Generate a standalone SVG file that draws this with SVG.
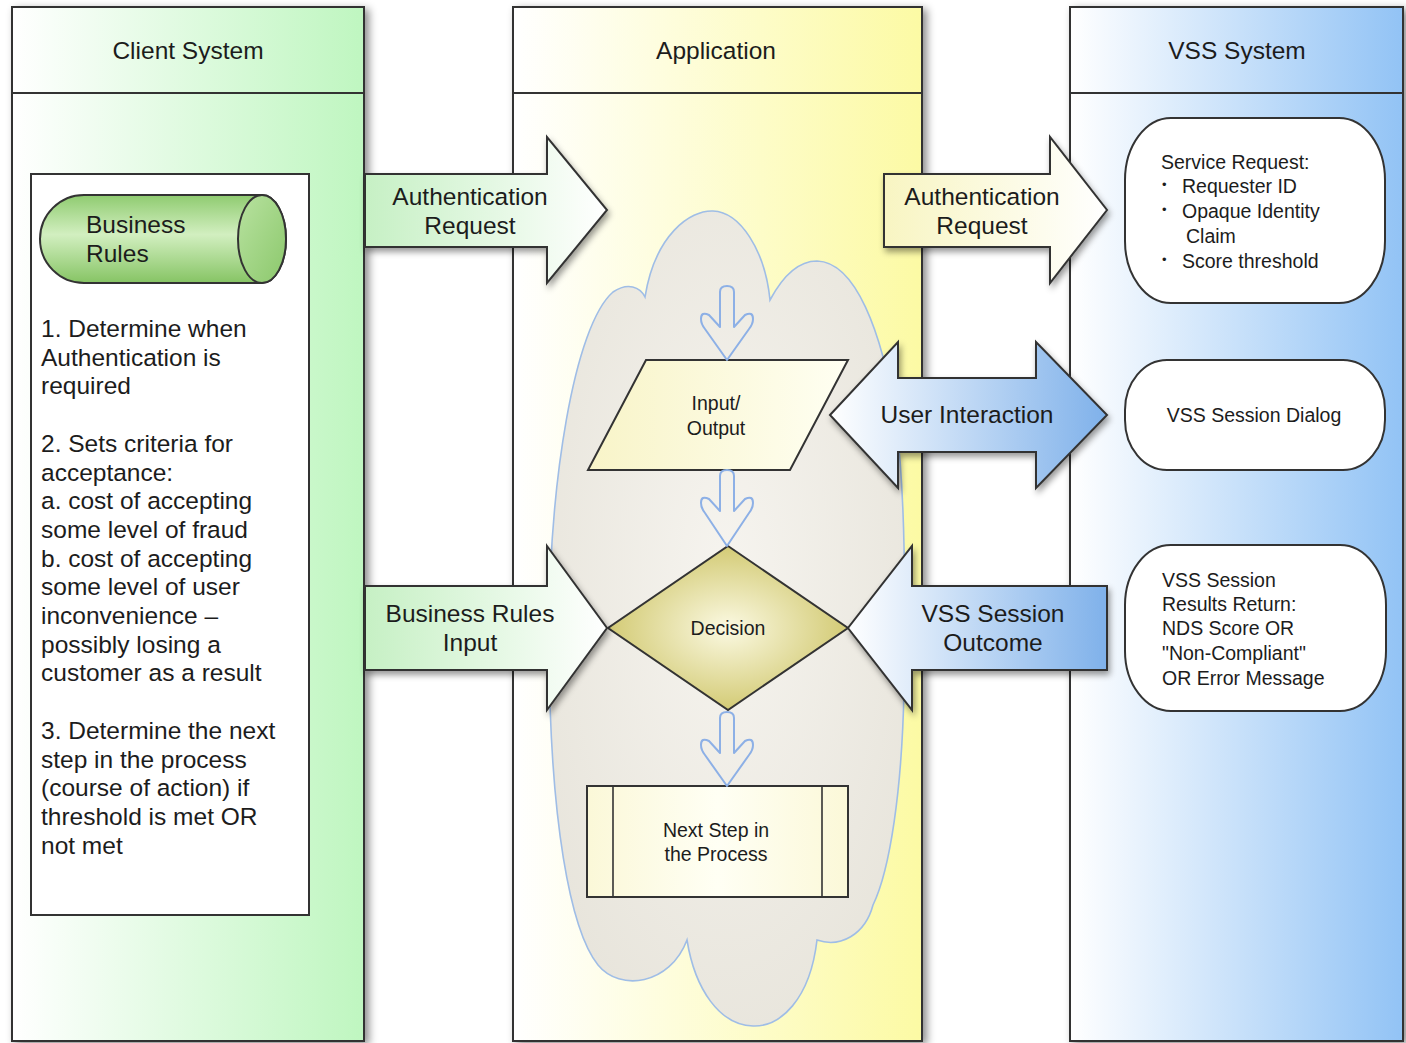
<svg xmlns="http://www.w3.org/2000/svg" width="1406" height="1043" viewBox="0 0 1406 1043">
<defs>
  <linearGradient id="gClient" x1="0" y1="0" x2="1" y2="0">
    <stop offset="0" stop-color="#ffffff"/>
    <stop offset="1" stop-color="#bff6c0"/>
  </linearGradient>
  <linearGradient id="gApp" x1="0" y1="0" x2="1" y2="0">
    <stop offset="0" stop-color="#ffffff"/>
    <stop offset="1" stop-color="#fcfaa4"/>
  </linearGradient>
  <linearGradient id="gVss" x1="0" y1="0" x2="1" y2="0">
    <stop offset="0" stop-color="#ffffff"/>
    <stop offset="1" stop-color="#92c3f5"/>
  </linearGradient>
  <linearGradient id="gArrowGreen" x1="0" y1="0" x2="1" y2="0">
    <stop offset="0" stop-color="#c6f0c4"/>
    <stop offset="1" stop-color="#ffffff"/>
  </linearGradient>
  <linearGradient id="gArrowYellow" x1="0" y1="0" x2="1" y2="0">
    <stop offset="0" stop-color="#f8f5c2"/>
    <stop offset="1" stop-color="#ffffff"/>
  </linearGradient>
  <linearGradient id="gArrowBlue" x1="0" y1="0" x2="1" y2="0">
    <stop offset="0" stop-color="#ffffff"/>
    <stop offset="1" stop-color="#7fb1ea"/>
  </linearGradient>
  <linearGradient id="gCyl" x1="0" y1="0" x2="0" y2="1">
    <stop offset="0" stop-color="#8fcb70"/>
    <stop offset="0.45" stop-color="#d2efc0"/>
    <stop offset="1" stop-color="#86c464"/>
  </linearGradient>
  <linearGradient id="gCap" x1="0" y1="0" x2="1" y2="1">
    <stop offset="0" stop-color="#b8e2a0"/>
    <stop offset="1" stop-color="#8cc86c"/>
  </linearGradient>
  <radialGradient id="gCloud" cx="0.5" cy="0.45" r="0.6">
    <stop offset="0" stop-color="#f6f4ef"/>
    <stop offset="1" stop-color="#e8e5dc"/>
  </radialGradient>
  <radialGradient id="gDiamond" cx="0.5" cy="0.5" r="0.55">
    <stop offset="0" stop-color="#fbf9e2"/>
    <stop offset="1" stop-color="#cfc66a"/>
  </radialGradient>
  <linearGradient id="gIO" x1="0" y1="0" x2="1" y2="0">
    <stop offset="0" stop-color="#f8f4c8"/>
    <stop offset="1" stop-color="#fffff2"/>
  </linearGradient>
  <linearGradient id="gNext" x1="0" y1="0" x2="1" y2="0">
    <stop offset="0" stop-color="#fbf8d8"/>
    <stop offset="0.5" stop-color="#fffff4"/>
    <stop offset="1" stop-color="#fbf8d8"/>
  </linearGradient>
  <filter id="shadow" x="-10%" y="-5%" width="125%" height="115%">
    <feDropShadow dx="4" dy="3" stdDeviation="4" flood-color="#000" flood-opacity="0.45"/>
  </filter>
  <filter id="shadowS" x="-10%" y="-10%" width="125%" height="130%">
    <feDropShadow dx="2" dy="4" stdDeviation="3" flood-color="#000" flood-opacity="0.4"/>
  </filter>
</defs>
<style>
  .lane { stroke: #333; stroke-width: 2; }
  .sep { stroke: #333; stroke-width: 2; }
  .box { stroke: #333; stroke-width: 2; }
  .thin { stroke: #333; stroke-width: 1.6; }
  .t { font-family: "Liberation Sans", Arial, sans-serif; fill: #1c1c1c; }
  .hdr { font-size: 24.5px; text-anchor: middle; }
  .big { font-size: 24.5px; }
  .mid { text-anchor: middle; }
  .sm { font-size: 19.5px; }
  .flow { fill: none; stroke: #8db0e6; stroke-width: 2; stroke-linejoin: round; }
  .cloud { fill: url(#gCloud); stroke: #9fbde6; stroke-width: 1.6; }
</style>
<rect width="1406" height="1043" fill="#ffffff"/>

<g id="lane-client">
  <rect class="lane" x="12" y="7" width="352" height="1034" fill="url(#gClient)" filter="url(#shadow)"/>
  <line class="sep" x1="12" y1="93" x2="364" y2="93"/>
  <text class="t hdr" x="188" y="59">Client System</text>
</g>
<g id="lane-application">
  <rect class="lane" x="513" y="7" width="409" height="1034" fill="url(#gApp)" filter="url(#shadow)"/>
  <line class="sep" x1="513" y1="93" x2="922" y2="93"/>
  <text class="t hdr" x="716" y="59">Application</text>
</g>
<g id="lane-vss">
  <rect class="lane" x="1070" y="7" width="333" height="1034" fill="url(#gVss)" filter="url(#shadow)"/>
  <line class="sep" x1="1070" y1="93" x2="1403" y2="93"/>
  <text class="t hdr" x="1237" y="59">VSS System</text>
</g>

<g id="business-rules-note">
  <rect class="box" x="31" y="174" width="278" height="741" fill="#ffffff"/>
  <text class="t big" x="41" y="337">
    <tspan x="41">1. Determine when</tspan>
    <tspan x="41" dy="28.7">Authentication is</tspan>
    <tspan x="41" dy="28.7">required</tspan>
    <tspan x="41" dy="57.4">2. Sets criteria for</tspan>
    <tspan x="41" dy="28.7">acceptance:</tspan>
    <tspan x="41" dy="28.7">a. cost of  accepting</tspan>
    <tspan x="41" dy="28.7">some level of fraud</tspan>
    <tspan x="41" dy="28.7">b. cost of accepting</tspan>
    <tspan x="41" dy="28.7">some level of user</tspan>
    <tspan x="41" dy="28.7">inconvenience –</tspan>
    <tspan x="41" dy="28.7">possibly losing a</tspan>
    <tspan x="41" dy="28.7">customer as a result</tspan>
    <tspan x="41" dy="57.4">3. Determine the next</tspan>
    <tspan x="41" dy="28.7">step in the process</tspan>
    <tspan x="41" dy="28.7">(course of action) if</tspan>
    <tspan x="41" dy="28.7">threshold is met OR</tspan>
    <tspan x="41" dy="28.7">not met</tspan>
  </text>
</g>

<g id="business-rules-store">
  <path class="box" d="M84,195 L262,195 A24,44 0 0 1 262,283 L84,283 A44,44 0 0 1 84,195 Z" fill="url(#gCyl)"/>
  <ellipse class="box" cx="262" cy="239" rx="24" ry="44" fill="url(#gCap)"/>
  <text class="t big" x="86" y="233">Business</text>
  <text class="t big" x="86" y="262">Rules</text>
</g>

<g id="cloud">
  <path class="cloud" d="M645,297 C655,235 690,210 713,211 C740,212 765,250 770,300 C785,272 800,261 817,261 C855,262 882,330 896,420 C906,500 905,600 904,690 C902,790 890,870 873,905 C865,935 840,948 817,940 C810,1000 780,1027 753,1026 C720,1025 695,990 687,940 C670,985 620,992 598,965 C570,930 550,820 549,650 C548,480 575,325 613,292 C628,282 640,287 645,297 Z"/>
</g>

<g id="input-output">
  <polygon class="box" points="646,360 848,360 790,470 588,470" fill="url(#gIO)"/>
  <text class="t sm mid" x="716" y="410">Input/</text>
  <text class="t sm mid" x="716" y="435">Output</text>
</g>

<g id="decision">
  <polygon class="box" points="728,546 848,628 728,710 608,628" fill="url(#gDiamond)"/>
  <text class="t sm mid" x="728" y="635">Decision</text>
</g>

<g id="next-step">
  <rect class="box" x="587" y="786" width="261" height="111" fill="url(#gNext)"/>
  <line class="thin" x1="613" y1="786" x2="613" y2="897"/>
  <line class="thin" x1="822" y1="786" x2="822" y2="897"/>
  <text class="t sm mid" x="716" y="837">Next Step in</text>
  <text class="t sm mid" x="716" y="861">the Process</text>
</g>

<g id="service-request">
  <rect class="box" x="1125" y="118" width="260" height="185" rx="46" ry="62" fill="#ffffff"/>
  <text class="t sm" x="1161" y="169">Service Request:</text>
  <text class="t" font-size="13" x="1162" y="189">•</text>
  <text class="t sm" x="1182" y="193">Requester ID</text>
  <text class="t" font-size="13" x="1162" y="214">•</text>
  <text class="t sm" x="1182" y="218">Opaque Identity</text>
  <text class="t sm" x="1186" y="243">Claim</text>
  <text class="t" font-size="13" x="1162" y="264">•</text>
  <text class="t sm" x="1182" y="268">Score threshold</text>
</g>

<g id="vss-session-dialog">
  <rect class="box" x="1125" y="360" width="260" height="110" rx="42" ry="50" fill="#ffffff"/>
  <text class="t sm mid" x="1254" y="422">VSS Session Dialog</text>
</g>

<g id="vss-results">
  <rect class="box" x="1125" y="545" width="261" height="166" rx="46" ry="60" fill="#ffffff"/>
  <text class="t sm" x="1162" y="587">VSS Session</text>
  <text class="t sm" x="1162" y="611">Results Return:</text>
  <text class="t sm" x="1162" y="635">NDS Score OR</text>
  <text class="t sm" x="1162" y="660">"Non-Compliant"</text>
  <text class="t sm" x="1162" y="685">OR Error Message</text>
</g>

<g id="connectors">
  <g id="arrow-auth-request-1">
    <path class="box" d="M365,174 L547,174 L547,137 L607,210 L547,283 L547,247 L365,247 Z" fill="url(#gArrowGreen)" filter="url(#shadowS)"/>
    <text class="t big mid" x="470" y="205">Authentication</text>
    <text class="t big mid" x="470" y="234">Request</text>
  </g>
  <g id="arrow-auth-request-2">
    <path class="box" d="M884,174 L1050,174 L1050,137 L1107,210 L1050,283 L1050,247 L884,247 Z" fill="url(#gArrowYellow)" filter="url(#shadowS)"/>
    <text class="t big mid" x="982" y="205">Authentication</text>
    <text class="t big mid" x="982" y="234">Request</text>
  </g>
  <g id="arrow-user-interaction">
    <path class="box" d="M830,415 L898,342 L898,378 L1036,378 L1036,342 L1107,415 L1036,488 L1036,452 L898,452 L898,488 Z" fill="url(#gArrowBlue)" filter="url(#shadowS)"/>
    <text class="t big mid" x="967" y="423">User Interaction</text>
  </g>
  <g id="arrow-business-rules-input">
    <path class="box" d="M365,586 L547,586 L547,546 L607,628 L547,710 L547,670 L365,670 Z" fill="url(#gArrowGreen)" filter="url(#shadowS)"/>
    <text class="t big mid" x="470" y="622">Business Rules</text>
    <text class="t big mid" x="470" y="651">Input</text>
  </g>
  <g id="arrow-vss-outcome">
    <path class="box" d="M1107,586 L912,586 L912,546 L848,628 L912,710 L912,670 L1107,670 Z" fill="url(#gArrowBlue)" filter="url(#shadowS)"/>
    <text class="t big mid" x="993" y="622">VSS Session</text>
    <text class="t big mid" x="993" y="651">Outcome</text>
  </g>
  <path class="flow" d="M720,292 Q720,286 727,286 Q734,286 734,292 L734,327 L745,315 Q753,311 753,319 Q753,324 749,329 L727,360 L705,329 Q701,324 701,319 Q701,311 709,315 L720,327 Z"/>
  <path class="flow" d="M720,476 Q720,470 727,470 Q734,470 734,476 L734,511 L745,499 Q753,495 753,503 Q753,508 749,513 L727,546 L705,513 Q701,508 701,503 Q701,495 709,499 L720,511 Z"/>
  <path class="flow" d="M720,718 Q720,712 727,712 Q734,712 734,718 L734,753 L745,741 Q753,737 753,745 Q753,750 749,755 L727,786 L705,755 Q701,750 701,745 Q701,737 709,741 L720,753 Z"/>
</g>
</svg>
